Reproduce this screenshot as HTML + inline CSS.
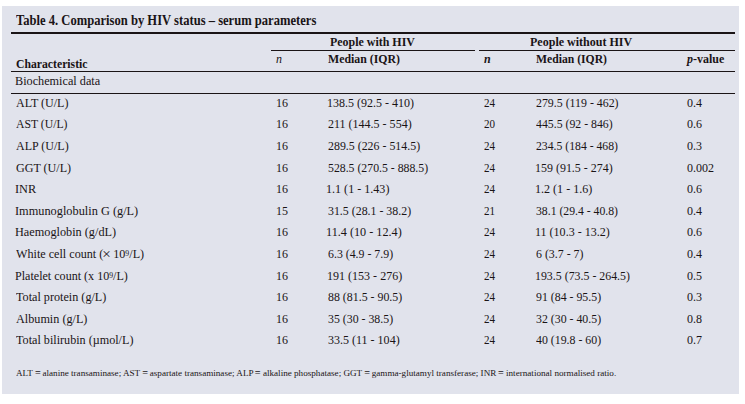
<!DOCTYPE html>
<html><head><meta charset="utf-8"><style>
html,body{margin:0;padding:0;background:#fff;width:745px;height:404px;overflow:hidden;}
#box{position:absolute;left:2px;top:6px;width:737px;height:388px;background:#e1e3ec;}
.t{position:absolute;white-space:nowrap;line-height:0;font-family:"Liberation Serif",serif;color:#1a1416;transform-origin:0 0;}
.b{font-weight:bold;}
.i{font-style:italic;}
.bi{font-weight:bold;font-style:italic;}
.eq{display:inline-block;transform:scale(1.12,1.3);transform-origin:50% 65%;}
.x{display:inline-block;transform:scale(1.25);transform-origin:50% 60%;}
.ln{position:absolute;background:#1a1416;}
sup{font-size:0.64em;vertical-align:0;position:relative;top:-0.22em;line-height:0;}
</style></head><body>
<div id="box"></div>
<div class="ln" style="left:11px;top:32px;width:724px;height:2px"></div>
<div class="ln" style="left:271px;top:50px;width:204px;height:1px"></div>
<div class="ln" style="left:479px;top:50px;width:256px;height:1px"></div>
<div class="ln" style="left:11px;top:71px;width:724px;height:1px"></div>
<div class="ln" style="left:11px;top:93px;width:724px;height:1px"></div>
<div class="t b" style="left:16.00px;top:20.91px;font-size:13.6px;transform:scaleX(0.9259);">Table 4. Comparison by HIV status &ndash; serum parameters</div>
<div class="t b" style="left:330.00px;top:41.95px;font-size:12.0px;transform:scaleX(0.9953);">People with HIV</div>
<div class="t b" style="left:529.80px;top:41.95px;font-size:12.0px;transform:scaleX(1.0020);">People without HIV</div>
<div class="t b" style="left:16.30px;top:63.95px;font-size:12.0px;transform:scaleX(0.9753);">Characteristic</div>
<div class="t i" style="left:276.00px;top:58.95px;font-size:12.0px;">n</div>
<div class="t b" style="left:327.60px;top:58.95px;font-size:12.0px;transform:scaleX(0.9863);">Median (IQR)</div>
<div class="t bi" style="left:484.00px;top:58.95px;font-size:12.0px;">n</div>
<div class="t b" style="left:536.00px;top:58.95px;font-size:12.0px;transform:scaleX(0.9726);">Median (IQR)</div>
<div class="t b" style="left:687.10px;top:58.95px;font-size:12.0px;transform:scaleX(0.9974);"><i>p</i>-value</div>
<div class="t " style="left:14.98px;top:80.95px;font-size:12.0px;transform:scaleX(1.0183);">Biochemical data</div>
<div class="t " style="left:16.20px;top:102.95px;font-size:12.0px;transform:scaleX(1.0019);">ALT (U/L)</div>
<div class="t " style="left:276.00px;top:102.95px;font-size:12.0px;">16</div>
<div class="t " style="left:326.50px;top:102.95px;font-size:12.0px;transform:scaleX(0.9988);">138.5 (92.5 - 410)</div>
<div class="t " style="left:484.00px;top:102.95px;font-size:12.0px;transform:scaleX(0.9200);">24</div>
<div class="t " style="left:536.00px;top:102.95px;font-size:12.0px;transform:scaleX(0.9880);">279.5 (119 - 462)</div>
<div class="t " style="left:687.00px;top:102.95px;font-size:12.0px;">0.4</div>
<div class="t " style="left:16.20px;top:123.95px;font-size:12.0px;transform:scaleX(0.9755);">AST (U/L)</div>
<div class="t " style="left:276.00px;top:123.95px;font-size:12.0px;">16</div>
<div class="t " style="left:327.50px;top:123.95px;font-size:12.0px;transform:scaleX(1.0012);">211 (144.5 - 554)</div>
<div class="t " style="left:484.00px;top:123.95px;font-size:12.0px;transform:scaleX(0.9200);">20</div>
<div class="t " style="left:536.00px;top:123.95px;font-size:12.0px;transform:scaleX(0.9833);">445.5 (92 - 846)</div>
<div class="t " style="left:687.00px;top:123.95px;font-size:12.0px;">0.6</div>
<div class="t " style="left:16.20px;top:145.95px;font-size:12.0px;transform:scaleX(1.0019);">ALP (U/L)</div>
<div class="t " style="left:276.00px;top:145.95px;font-size:12.0px;">16</div>
<div class="t " style="left:327.50px;top:145.95px;font-size:12.0px;transform:scaleX(0.9903);">289.5 (226 - 514.5)</div>
<div class="t " style="left:484.00px;top:145.95px;font-size:12.0px;transform:scaleX(0.9200);">24</div>
<div class="t " style="left:536.00px;top:145.95px;font-size:12.0px;transform:scaleX(0.9762);">234.5 (184 - 468)</div>
<div class="t " style="left:687.00px;top:145.95px;font-size:12.0px;">0.3</div>
<div class="t " style="left:16.20px;top:167.95px;font-size:12.0px;transform:scaleX(1.0055);">GGT (U/L)</div>
<div class="t " style="left:276.00px;top:167.95px;font-size:12.0px;">16</div>
<div class="t " style="left:327.50px;top:167.95px;font-size:12.0px;transform:scaleX(0.9814);">528.5 (270.5 - 888.5)</div>
<div class="t " style="left:484.00px;top:167.95px;font-size:12.0px;transform:scaleX(0.9200);">24</div>
<div class="t " style="left:535.00px;top:167.95px;font-size:12.0px;transform:scaleX(0.9961);">159 (91.5 - 274)</div>
<div class="t " style="left:687.00px;top:167.95px;font-size:12.0px;">0.002</div>
<div class="t " style="left:15.17px;top:188.95px;font-size:12.0px;transform:scaleX(1.0250);">INR</div>
<div class="t " style="left:276.00px;top:188.95px;font-size:12.0px;">16</div>
<div class="t " style="left:326.49px;top:188.95px;font-size:12.0px;transform:scaleX(1.0065);">1.1 (1 - 1.43)</div>
<div class="t " style="left:484.00px;top:188.95px;font-size:12.0px;transform:scaleX(0.9200);">24</div>
<div class="t " style="left:534.99px;top:188.95px;font-size:12.0px;transform:scaleX(1.0054);">1.2 (1 - 1.6)</div>
<div class="t " style="left:687.00px;top:188.95px;font-size:12.0px;">0.6</div>
<div class="t " style="left:15.17px;top:210.95px;font-size:12.0px;transform:scaleX(1.0269);">Immunoglobulin G (g/L)</div>
<div class="t " style="left:276.00px;top:210.95px;font-size:12.0px;">15</div>
<div class="t " style="left:327.50px;top:210.95px;font-size:12.0px;transform:scaleX(0.9893);">31.5 (28.1 - 38.2)</div>
<div class="t " style="left:484.00px;top:210.95px;font-size:12.0px;transform:scaleX(0.9200);">21</div>
<div class="t " style="left:536.00px;top:210.95px;font-size:12.0px;transform:scaleX(0.9762);">38.1 (29.4 - 40.8)</div>
<div class="t " style="left:687.00px;top:210.95px;font-size:12.0px;">0.4</div>
<div class="t " style="left:15.18px;top:231.95px;font-size:12.0px;transform:scaleX(1.0214);">Haemoglobin (g/dL)</div>
<div class="t " style="left:276.00px;top:231.95px;font-size:12.0px;">16</div>
<div class="t " style="left:326.48px;top:231.95px;font-size:12.0px;transform:scaleX(1.0164);">11.4 (10 - 12.4)</div>
<div class="t " style="left:484.00px;top:231.95px;font-size:12.0px;transform:scaleX(0.9200);">24</div>
<div class="t " style="left:535.00px;top:231.95px;font-size:12.0px;transform:scaleX(1.0027);">11 (10.3 - 13.2)</div>
<div class="t " style="left:687.00px;top:231.95px;font-size:12.0px;">0.6</div>
<div class="t " style="left:16.20px;top:253.95px;font-size:12.0px;transform:scaleX(1.0119);">White cell count (<span class='x'>&times;</span> 10<sup>9</sup>/L)</div>
<div class="t " style="left:276.00px;top:253.95px;font-size:12.0px;">16</div>
<div class="t " style="left:327.50px;top:253.95px;font-size:12.0px;transform:scaleX(0.9864);">6.3 (4.9 - 7.9)</div>
<div class="t " style="left:484.00px;top:253.95px;font-size:12.0px;transform:scaleX(0.9200);">24</div>
<div class="t " style="left:536.00px;top:253.95px;font-size:12.0px;transform:scaleX(0.9896);">6 (3.7 - 7)</div>
<div class="t " style="left:687.00px;top:253.95px;font-size:12.0px;">0.4</div>
<div class="t " style="left:15.19px;top:275.95px;font-size:12.0px;transform:scaleX(1.0063);">Platelet count (x 10<sup>9</sup>/L)</div>
<div class="t " style="left:276.00px;top:275.95px;font-size:12.0px;">16</div>
<div class="t " style="left:326.50px;top:275.95px;font-size:12.0px;transform:scaleX(1.0027);">191 (153 - 276)</div>
<div class="t " style="left:484.00px;top:275.95px;font-size:12.0px;transform:scaleX(0.9200);">24</div>
<div class="t " style="left:535.01px;top:275.95px;font-size:12.0px;transform:scaleX(0.9895);">193.5 (73.5 - 264.5)</div>
<div class="t " style="left:687.00px;top:275.95px;font-size:12.0px;">0.5</div>
<div class="t " style="left:16.20px;top:296.95px;font-size:12.0px;transform:scaleX(1.0135);">Total protein (g/L)</div>
<div class="t " style="left:276.00px;top:296.95px;font-size:12.0px;">16</div>
<div class="t " style="left:327.50px;top:296.95px;font-size:12.0px;transform:scaleX(0.9893);">88 (81.5 - 90.5)</div>
<div class="t " style="left:484.00px;top:296.95px;font-size:12.0px;transform:scaleX(0.9200);">24</div>
<div class="t " style="left:536.00px;top:296.95px;font-size:12.0px;transform:scaleX(0.9864);">91 (84 - 95.5)</div>
<div class="t " style="left:687.00px;top:296.95px;font-size:12.0px;">0.3</div>
<div class="t " style="left:16.20px;top:318.95px;font-size:12.0px;transform:scaleX(1.0157);">Albumin (g/L)</div>
<div class="t " style="left:276.00px;top:318.95px;font-size:12.0px;">16</div>
<div class="t " style="left:327.50px;top:318.95px;font-size:12.0px;transform:scaleX(0.9864);">35 (30 - 38.5)</div>
<div class="t " style="left:484.00px;top:318.95px;font-size:12.0px;transform:scaleX(0.9200);">24</div>
<div class="t " style="left:536.00px;top:318.95px;font-size:12.0px;transform:scaleX(0.9864);">32 (30 - 40.5)</div>
<div class="t " style="left:687.00px;top:318.95px;font-size:12.0px;">0.8</div>
<div class="t " style="left:16.20px;top:339.95px;font-size:12.0px;transform:scaleX(1.0121);">Total bilirubin (&micro;mol/L)</div>
<div class="t " style="left:276.00px;top:339.95px;font-size:12.0px;">16</div>
<div class="t " style="left:327.50px;top:339.95px;font-size:12.0px;transform:scaleX(1.0014);">33.5 (11 - 104)</div>
<div class="t " style="left:484.00px;top:339.95px;font-size:12.0px;transform:scaleX(0.9200);">24</div>
<div class="t " style="left:536.00px;top:339.95px;font-size:12.0px;transform:scaleX(0.9864);">40 (19.8 - 60)</div>
<div class="t " style="left:687.00px;top:339.95px;font-size:12.0px;">0.7</div>
<div class="t " style="left:16.00px;top:372.96px;font-size:9px;transform:scaleX(1.0132);">ALT <span class='eq'>=</span> alanine transaminase; AST <span class='eq'>=</span> aspartate transaminase; ALP <span class='eq'>=</span> alkaline phosphatase; GGT <span class='eq'>=</span> gamma-glutamyl transferase; INR <span class='eq'>=</span> international normalised ratio.</div>
</body></html>
